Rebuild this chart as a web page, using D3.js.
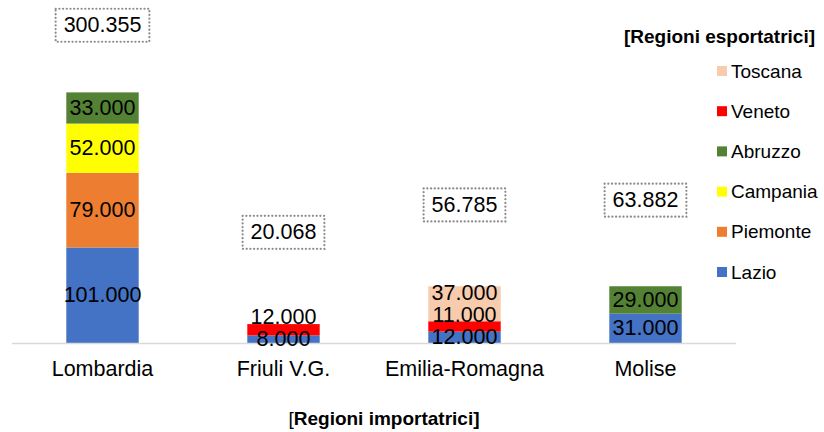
<!DOCTYPE html>
<html><head><meta charset="utf-8">
<script src="https://cdn.jsdelivr.net/npm/d3@7/dist/d3.min.js"></script>
<style>
html,body{margin:0;padding:0;background:#fff;}
svg{display:block;font-family:"Liberation Sans",Arial,sans-serif;}
</style></head>
<body>
<svg id="chart" width="824" height="432"></svg>
<script>
// ---- data ----
const categories = ["Lombardia", "Friuli V.G.", "Emilia-Romagna", "Molise"];
const seriesNames = ["Lazio", "Piemonte", "Campania", "Abruzzo", "Veneto", "Toscana"];
const lazio    = [101000, 8000, 12000, 31000];
const piemonte = [79000, 0, 0, 0];
const campania = [52000, 0, 0, 0];
const abruzzo  = [33000, 0, 0, 29000];
const veneto   = [0, 12000, 11000, 0];
const toscana  = [0, 0, 37000, 0];
const totals   = [300355, 20068, 56785, 63882];
const totalLabelAnchor = [336000, 117000, 146000, 151000]; // level (in data units) where the total box sits
const seriesColors = ["#4472C4", "#ED7D31", "#FFFF00", "#548235", "#FF0000", "#F8CBAD"];
const legendOrder = ["Toscana", "Veneto", "Abruzzo", "Campania", "Piemonte", "Lazio"];

const fmt = v => d3.format(",")(v).replace(/,/g, ".");

const svg = d3.select("#chart");

const x = d3.scaleBand().domain(categories).range([12, 736]).paddingInner(0.6).paddingOuter(0.3);
const y = d3.scaleLinear().domain([0, 350000]).range([343, 12]);

const valuesBySeries = [lazio, piemonte, campania, abruzzo, veneto, toscana];
const rows = categories.map((c, i) => {
  const r = {cat: c};
  seriesNames.forEach((s, k) => r[s] = valuesBySeries[k][i]);
  return r;
});
const stack = d3.stack().keys(seriesNames)(rows);
const color = d3.scaleOrdinal().domain(seriesNames).range(seriesColors);

// bars
const g = svg.append("g");
stack.forEach(layer => {
  g.selectAll(null).data(layer.filter(d => d[1] - d[0] > 0)).join("rect")
    .attr("x", d => x(d.data.cat))
    .attr("width", x.bandwidth())
    .attr("y", d => y(d[1]))
    .attr("height", d => y(d[0]) - y(d[1]))
    .attr("fill", color(layer.key));
});

// axis line
svg.append("line").attr("x1", 12).attr("x2", 736).attr("y1", y(0) + 0.5).attr("y2", y(0) + 0.5)
  .attr("stroke", "#D9D9D9").attr("stroke-width", 1.5);

// data labels with simple upward collision avoidance
categories.forEach((c, i) => {
  const labs = [];
  stack.forEach(layer => {
    const d = layer[i];
    if (d[1] - d[0] > 0) labs.push({v: d[1] - d[0], yc: (y(d[0]) + y(d[1])) / 2});
  });
  const minGap = 22;
  for (let k = 1; k < labs.length; k++) {
    if (labs[k - 1].yc - labs[k].yc < minGap) labs[k].yc = labs[k - 1].yc - minGap;
  }
  labs.forEach(l => {
    svg.append("text").attr("x", x(c) + x.bandwidth() / 2).attr("y", l.yc)
      .attr("text-anchor", "middle").attr("dominant-baseline", "central")
      .attr("font-size", "21.5px").attr("fill", "#000").text(fmt(l.v));
  });
});

// total labels in dotted boxes
categories.forEach((c, i) => {
  const cx = x(c) + x.bandwidth() / 2, cy = y(totalLabelAnchor[i]);
  const t = svg.append("text").attr("x", cx).attr("y", cy)
    .attr("text-anchor", "middle").attr("dominant-baseline", "central")
    .attr("font-size", "21.5px").attr("fill", "#000").text(fmt(totals[i]));
  const w = t.node().getComputedTextLength() + 16;
  svg.insert("rect", "text").attr("x", cx - w / 2).attr("y", cy - 16.5).attr("width", w).attr("height", 33)
    .attr("fill", "none").attr("stroke", "#8C8C8C").attr("stroke-width", 2.2)
    .attr("stroke-dasharray", "0.1 3.6").attr("stroke-linecap", "round");
});

// category labels
svg.append("g").selectAll("text").data(categories).join("text")
  .attr("x", d => x(d) + x.bandwidth() / 2).attr("y", 376)
  .attr("text-anchor", "middle").attr("font-size", "21.5px").attr("fill", "#000").text(d => d);

// x axis title
const xt = svg.append("text").attr("x", 384).attr("y", 425).attr("text-anchor", "middle")
  .attr("font-size", "19px").attr("fill", "#000");
xt.append("tspan").text("[");
xt.append("tspan").attr("font-weight", "bold").text("Regioni importatrici]");

// legend
svg.append("text").attr("x", 815).attr("y", 43).attr("text-anchor", "end")
  .attr("font-size", "19px").attr("font-weight", "bold").attr("fill", "#000").text("[Regioni esportatrici]");
const lg = svg.append("g").selectAll("g").data(legendOrder).join("g")
  .attr("transform", (d, i) => `translate(717,${71 + i * 40.2})`);
lg.append("rect").attr("x", 0).attr("y", -5).attr("width", 10).attr("height", 10).attr("fill", d => color(d));
lg.append("text").attr("x", 14).attr("y", 0).attr("dominant-baseline", "central")
  .attr("font-size", "19px").attr("fill", "#000").text(d => d);
</script>
</body></html>
